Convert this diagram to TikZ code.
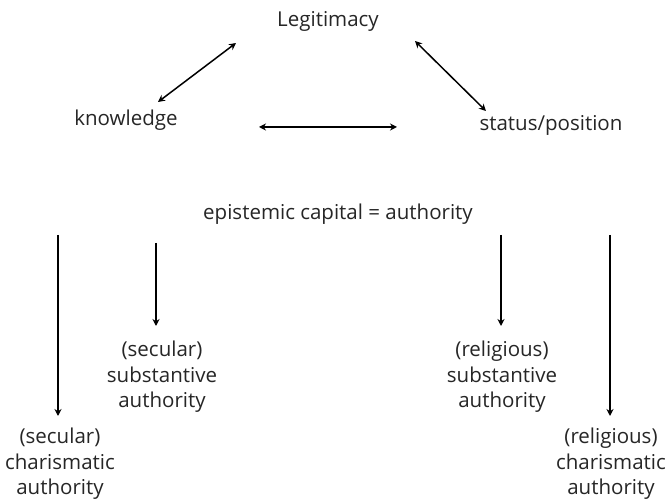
\documentclass[tikz,border=0pt]{standalone}
\usepackage{fontspec}
\setmainfont{Open Sans}
\usetikzlibrary{arrows.meta}
\begin{document}
\begin{tikzpicture}[x=1pt,y=-1pt,
  lbl/.style={font=\fontsize{20.5}{25.5}\selectfont, align=center, inner sep=0pt, text=black!85},
  conn/.style={line width=1.5pt, -{Stealth[length=7pt,width=7pt]}},
  biconn/.style={line width=1.5pt, {Stealth[length=7pt,width=7pt]}-{Stealth[length=7pt,width=7pt]}}]
\useasboundingbox[fill=white] (0,0) rectangle (665,502);
\node[lbl] (leg) at (328,21) {Legitimacy};
\node[lbl] (know) at (126,120) {knowledge};
\node[lbl] (stat) at (551,125) {status/position};
\node[lbl] (epi) at (338,214) {epistemic capital = authority};
\node[lbl] (secsub) at (162,377) {(secular)\\substantive\\authority};
\node[lbl] (relsub) at (502,377) {(religious)\\substantive\\authority};
\node[lbl] (secchar) at (60,464) {(secular)\\charismatic\\authority};
\node[lbl] (relchar) at (611,464) {(religious)\\charismatic\\authority};
% arrow end points
\coordinate (lk1) at (236,43);
\coordinate (lk2) at (158,102);
\coordinate (ls1) at (415,41);
\coordinate (ls2) at (486,111);
\coordinate (ks1) at (259,127);
\coordinate (ks2) at (397,127);
\coordinate (e1s) at (58,235);
\coordinate (e1e) at (58,416);
\coordinate (e2s) at (156,243);
\coordinate (e2e) at (156,326);
\coordinate (e3s) at (501,235);
\coordinate (e3e) at (501,326);
\coordinate (e4s) at (610,235);
\coordinate (e4e) at (610,416);
\draw[biconn] (lk1) -- (lk2);
\draw[biconn] (ls1) -- (ls2);
\draw[biconn] (ks1) -- (ks2);
\draw[conn] (e1s) -- (e1e);
\draw[conn] (e2s) -- (e2e);
\draw[conn] (e3s) -- (e3e);
\draw[conn] (e4s) -- (e4e);
\end{tikzpicture}
\end{document}
